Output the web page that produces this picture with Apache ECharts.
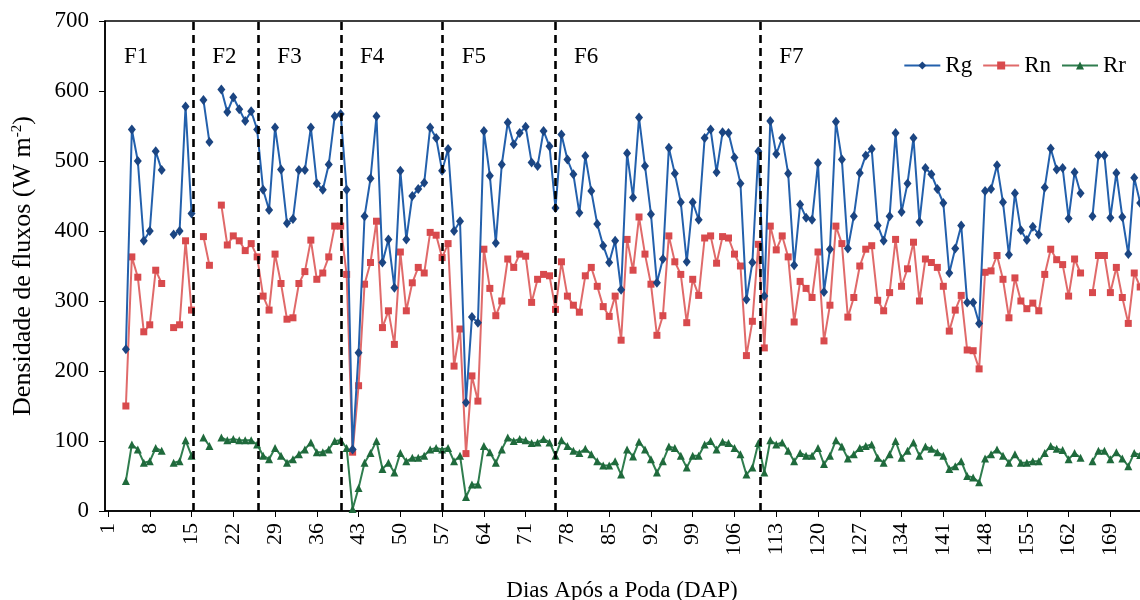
<!DOCTYPE html>
<html>
<head>
<meta charset="utf-8">
<script src="https://cdn.jsdelivr.net/npm/echarts@6/dist/echarts.min.js"></script>
<style>
  html, body { margin: 0; padding: 0; background: #fff; }
  #chart { width: 1140px; height: 600px; }
</style>
</head>
<body>
<div id="chart"></div>
<script>
// Daily radiation fluxes (W m-2) from DAP 4 onwards; null = missing day
const dapStart = 4;

// Global radiation
const rg = [
  231, 545, 500, 386, 400, 514, 487, null, 395, 400,
  578, 425, null, 587, 527, null, 602, 570, 591, 574,
  557, 571, 545, 459, 430, 548, 488, 411, 417, 487,
  487, 548, 468, 459, 495, 564, 567, 459, 88, 226,
  421, 475, 564, 355, 388, 319, 486, 388, 450, 460,
  469, 548, 533, 486, 517, 400, 414, 155, 277, 269,
  543, 479, 383, 495, 555, 524, 540, 549, 498, 493,
  543, 521, 433, 538, 502, 481, 426, 507, 457, 410,
  379, 355, 386, 316, 511, 448, 562, 493, 424, 326,
  360, 519, 482, 441, 356, 441, 416, 533, 545, 484,
  541, 540, 505, 468, 302, 355, 514, 307, 557, 510,
  533, 482, 351, 438, 419, 416, 497, 313, 374, 556,
  502, 375, 421, 483, 508, 517, 408, 386, 421, 540,
  427, 468, 533, 413, 490, 481, 460, 440, 340, 375,
  408, 298, 298, 268, 457, 460, 494, 441, 366, 454,
  401, 387, 406, 395, 462, 518, 488, 490, 418, 484,
  454, null, 421, 508, 508, 419, 483, 420, 367, 476, 440
];

// Net radiation
const rn = [
  150, 363, 334, 256, 266, 344, 325, null, 262, 266,
  386, 287, null, 392, 351, null, 437, 380, 393, 386,
  372, 382, 363, 307, 287, 367, 325, 274, 276, 325,
  342, 387, 331, 340, 363, 407, 407, 338, 84, 179,
  324, 355, 414, 262, 286, 238, 370, 286, 326, 348,
  340, 398, 394, 362, 382, 207, 260, 82, 193, 157,
  374, 318, 279, 300, 360, 348, 367, 364, 298, 331,
  338, 336, 288, 356, 307, 294, 284, 336, 348, 321,
  292, 278, 307, 244, 388, 344, 420, 367, 324, 251,
  279, 393, 356, 338, 269, 331, 308, 390, 393, 354,
  392, 390, 367, 350, 222, 271, 381, 233, 407, 373,
  393, 363, 270, 328, 318, 305, 370, 243, 294, 407,
  382, 277, 305, 350, 374, 379, 301, 286, 312, 388,
  321, 346, 384, 300, 360, 355, 348, 321, 257, 287,
  308, 230, 229, 203, 341, 343, 365, 331, 276, 333,
  300, 289, 297, 286, 338, 374, 359, 352, 307, 360,
  340, null, 312, 365, 365, 312, 348, 305, 268, 340, 320
];

// Reflected radiation
const rr = [
  43, 95, 88, 69, 71, 90, 86, null, 69, 71,
  101, 79, null, 105, 93, null, 105, 101, 103, 101,
  101, 101, 95, 79, 74, 90, 79, 69, 74, 81,
  88, 98, 84, 84, 88, 100, 101, 90, 3, 33,
  69, 83, 100, 60, 69, 55, 83, 71, 76, 76,
  79, 88, 90, 88, 90, 71, 79, 20, 38, 38,
  93, 84, 69, 88, 105, 100, 103, 101, 97, 98,
  103, 98, 79, 101, 93, 86, 83, 89, 81, 71,
  65, 65, 71, 52, 88, 78, 99, 88, 74, 55,
  71, 92, 90, 79, 62, 79, 79, 95, 100, 88,
  99, 97, 90, 81, 52, 62, 97, 55, 101, 95,
  98, 86, 71, 83, 79, 79, 90, 67, 79, 101,
  92, 75, 81, 90, 93, 95, 76, 69, 81, 100,
  76, 86, 98, 79, 92, 89, 84, 79, 60, 64,
  71, 50, 48, 41, 75, 81, 88, 79, 69, 81,
  69, 69, 71, 71, 83, 93, 89, 87, 74, 83,
  76, null, 71, 86, 86, 74, 84, 75, 64, 83, 80
];

// Tick labels of the DAP axis
const dapTicks = [1, 8, 15, 22, 29, 36, 43, 50, 57, 64, 71, 78, 85, 92, 99,
  106, 113, 120, 127, 134, 141, 148, 155, 162, 169, 176];
const yTicks = [0, 100, 200, 300, 400, 500, 600, 700];

// Phase boundaries (DAP) and phase names
const phaseBounds = [15.3, 26.2, 40.05, 57.1, 75.9, 110.3];
const phaseNames = ['F1', 'F2', 'F3', 'F4', 'F5', 'F6', 'F7'];

const X_MIN = 0.5, X_MAX = 180.5;
const FONT = '"Liberation Serif", "Times New Roman", serif';

const pairs = arr => arr.map((v, i) => [dapStart + i, v]);

const edges = [X_MIN].concat(phaseBounds, [X_MAX]);
const phaseAreas = phaseNames.map((name, i) => [
  { name: name, xAxis: edges[i] },
  { xAxis: edges[i + 1] }
]);

const chart = echarts.init(document.getElementById('chart'), null, { renderer: 'canvas' });

chart.setOption({
  animation: false,
  backgroundColor: '#ffffff',
  textStyle: { fontFamily: FONT, color: '#000' },
  grid: {
    left: 105, top: 21, width: 1074, height: 490,
    outerBoundsMode: 'none', containLabel: false,
    show: true, borderColor: '#000', borderWidth: 1.5, backgroundColor: 'transparent'
  },
  legend: {
    right: 9, top: 49,
    itemWidth: 36, itemHeight: 10, itemGap: 10,
    textStyle: { fontFamily: FONT, fontSize: 23, color: '#000' },
    data: ['Rg', 'Rn', 'Rr']
  },
  xAxis: {
    type: 'value', min: X_MIN, max: X_MAX,
    name: 'Dias Após a Poda (DAP)', nameLocation: 'middle', nameGap: 68,
    nameTextStyle: { fontFamily: FONT, fontSize: 23, color: '#000', padding: [0, 40, 0, 0] },
    axisLine: { show: true, onZero: false, lineStyle: { color: '#000', width: 1.5 } },
    axisTick: { show: true, length: 6, lineStyle: { color: '#000' }, customValues: dapTicks },
    axisLabel: {
      rotate: 90, margin: 12, fontFamily: FONT, fontSize: 22, color: '#000',
      customValues: dapTicks
    },
    splitLine: { show: false }
  },
  yAxis: {
    type: 'value', min: 0, max: 700, interval: 100,
    name: 'Densidade de fluxos (W m{sup|-2})', nameLocation: 'middle', nameGap: 68, nameRotate: 90,
    nameTextStyle: {
      fontFamily: FONT, fontSize: 26, color: '#000',
      rich: { sup: { fontFamily: FONT, fontSize: 15, color: '#000', verticalAlign: 'top', padding: [0, 0, 12, 0] } }
    },
    axisLine: { show: true, lineStyle: { color: '#000', width: 1.5 } },
    axisTick: { show: true, length: 6, lineStyle: { color: '#000' }, customValues: yTicks },
    axisLabel: { margin: 16, fontFamily: FONT, fontSize: 23, color: '#000', customValues: yTicks },
    splitLine: { show: false }
  },
  series: [
    {
      name: 'Rg', type: 'line', data: pairs(rg), connectNulls: false,
      symbol: 'diamond', symbolSize: [8, 10], z: 4,
      lineStyle: { color: '#2360ac', width: 2 },
      itemStyle: { color: '#1b4582' },
      markLine: {
        silent: true, symbol: 'none', z: 10,
        lineStyle: { color: '#000', type: [8, 5], width: 2.6 },
        label: { show: false },
        data: phaseBounds.map(b => ({ xAxis: b }))
      },
      markArea: {
        silent: true,
        itemStyle: { color: 'rgba(0,0,0,0)' },
        label: {
          show: true, position: 'insideTopLeft', distance: 0, offset: [19, 24],
          formatter: '{b}', fontFamily: FONT, fontSize: 23, color: '#000'
        },
        data: phaseAreas
      }
    },
    {
      name: 'Rn', type: 'line', data: pairs(rn), connectNulls: false,
      symbol: 'rect', symbolSize: 7, z: 3,
      lineStyle: { color: '#e06a6a', width: 2 },
      itemStyle: { color: '#d84a4d' }
    },
    {
      name: 'Rr', type: 'line', data: pairs(rr), connectNulls: false,
      symbol: 'triangle', symbolSize: 8, z: 3,
      lineStyle: { color: '#2f7d4e', width: 2 },
      itemStyle: { color: '#1f6a3c' }
    }
  ]
});
</script>
</body>
</html>
